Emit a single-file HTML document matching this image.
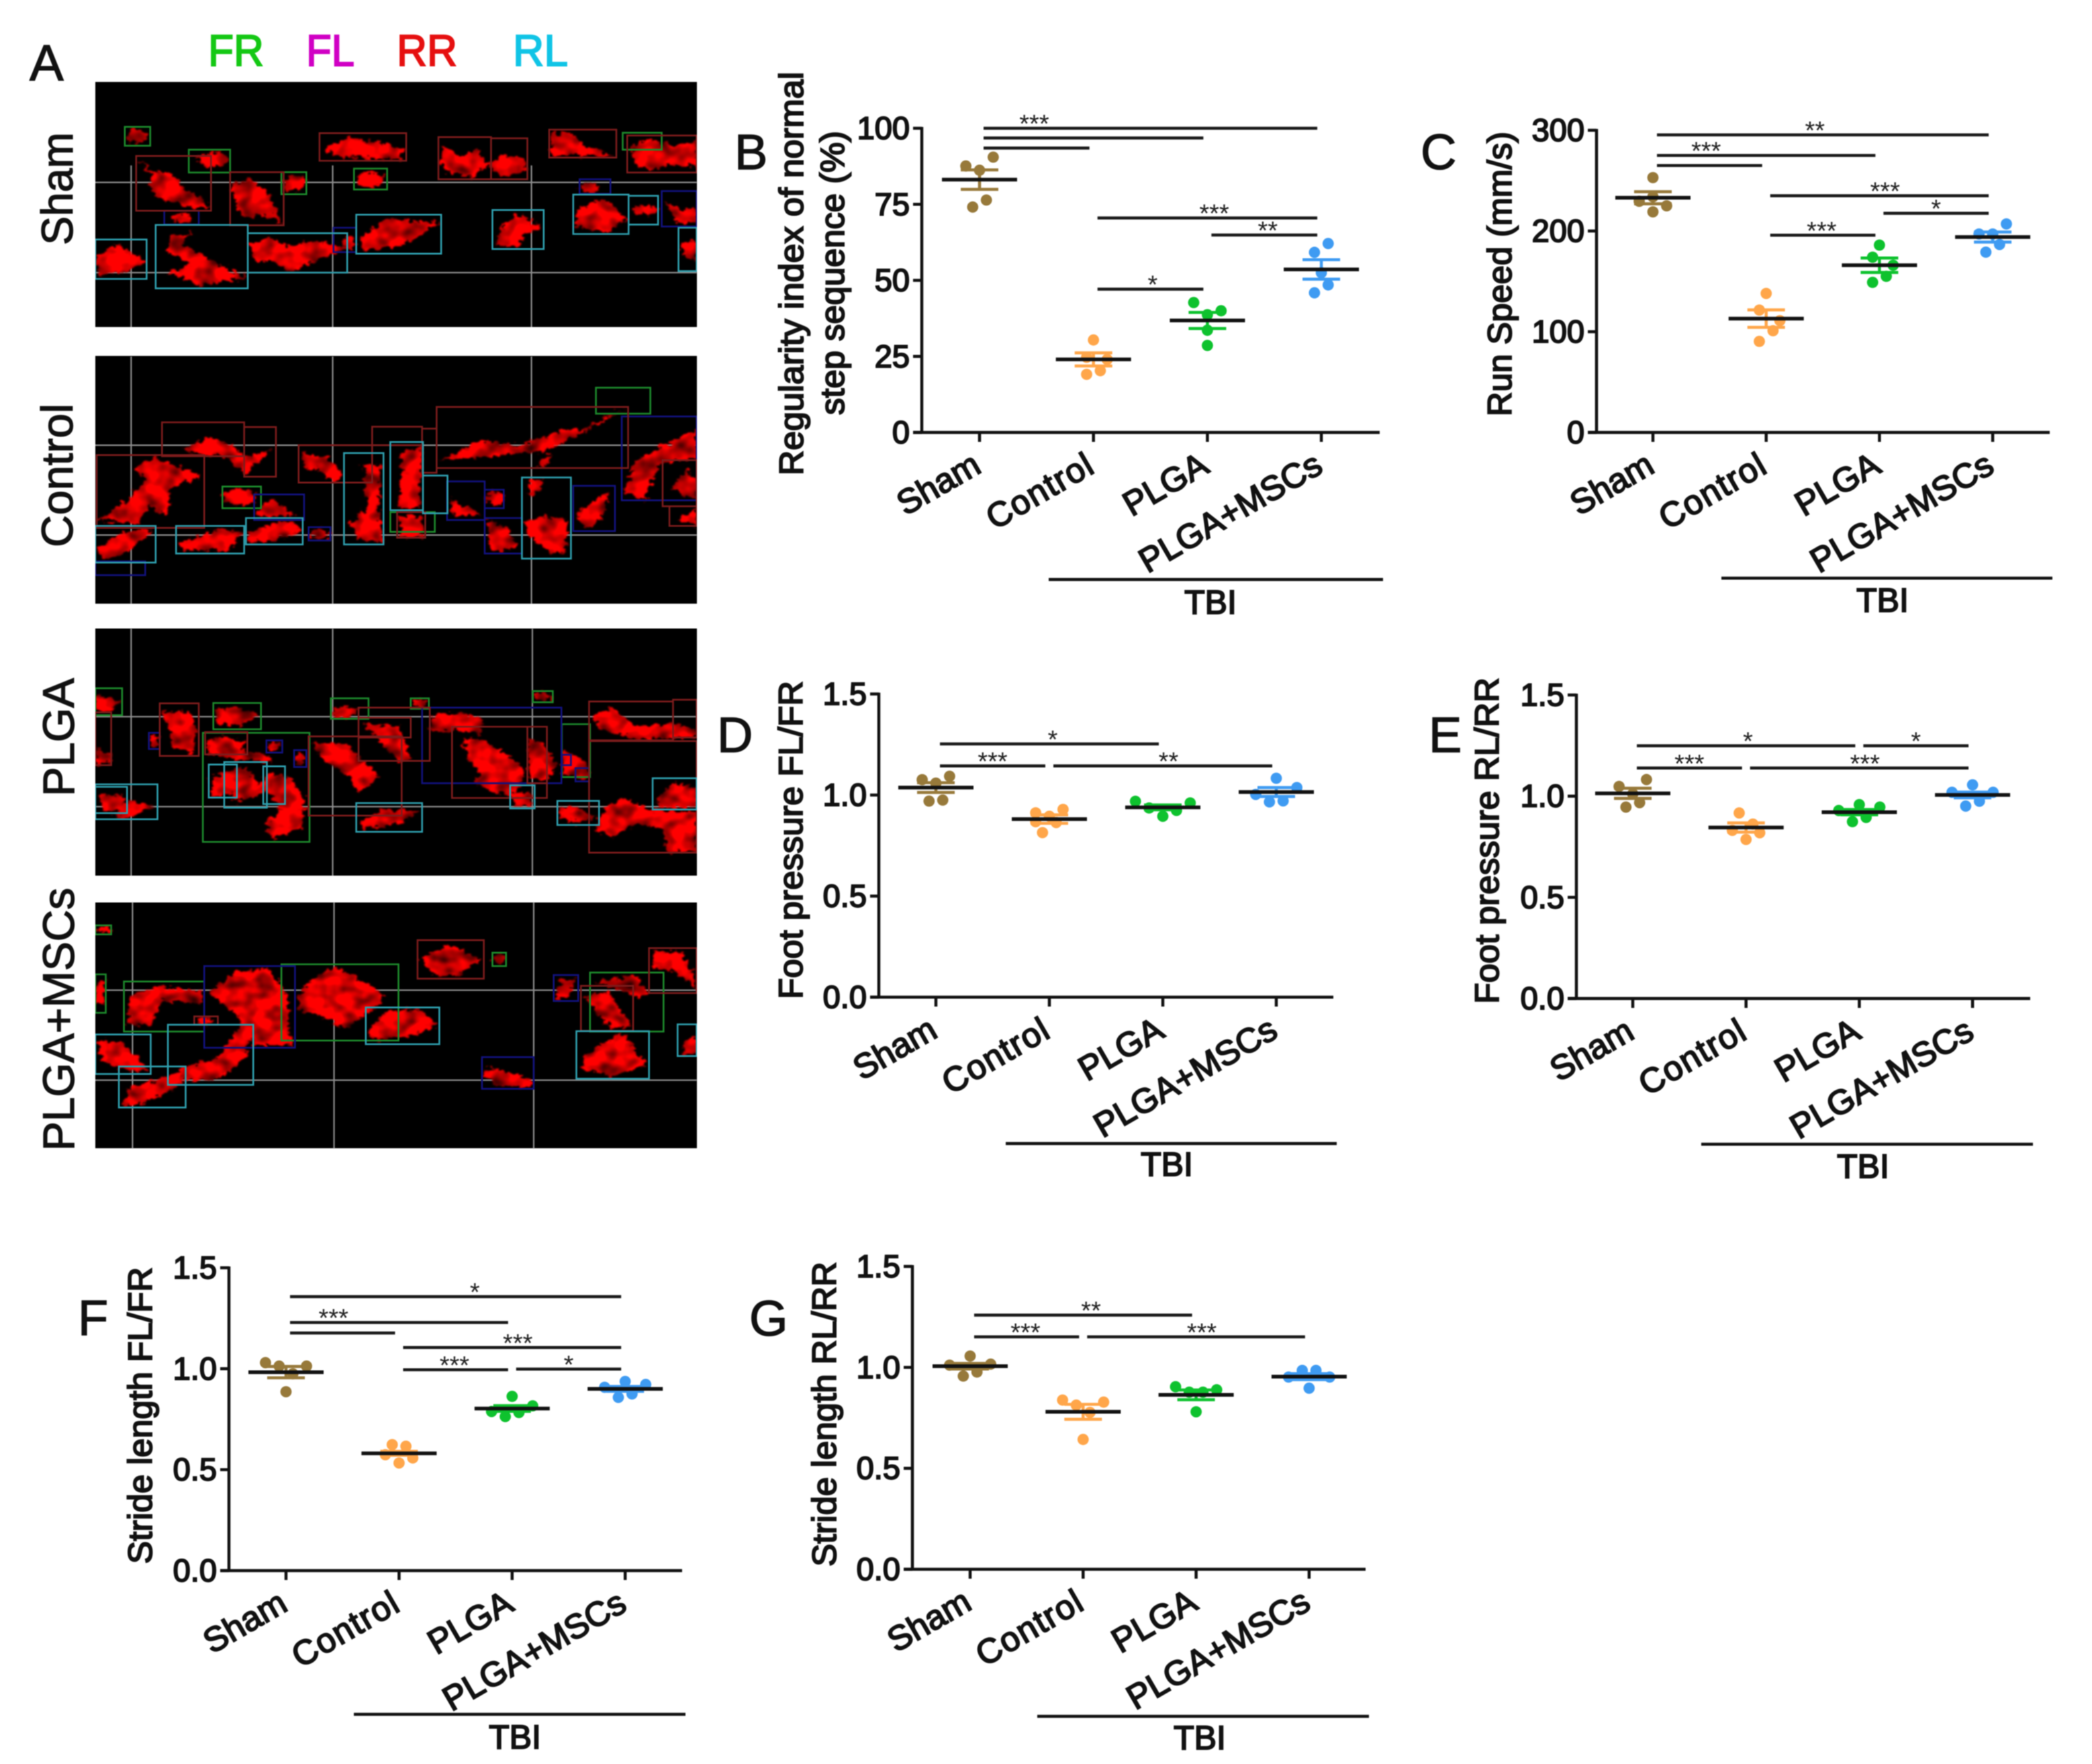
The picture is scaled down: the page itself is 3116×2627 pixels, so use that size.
<!DOCTYPE html>
<html lang="en">
<head>
<meta charset="utf-8">
<title>Gait analysis figure</title>
<style>
html,body{margin:0;padding:0;background:#fff}
svg{display:block;filter:blur(.9px)}
text{font-family:"Liberation Sans",sans-serif;font-kerning:none}
.box{fill:none;stroke-width:2.6;vector-effect:non-scaling-stroke}
.grn{stroke:#1d8a2c}.drd{stroke:#7d1c1c}.blu{stroke:#12127e}.cyn{stroke:#2f9fae}
.grid{stroke:#8c8c8c;stroke-width:2.2;vector-effect:non-scaling-stroke;fill:none}
.blob{fill:#ff0000}
.lbl{fill:#111;stroke:#111;stroke-width:2}
.plain{fill:#111;stroke:#111;stroke-width:1.3}
.leg{stroke-width:2}
</style>
</head>
<body>
<svg id="figure" xmlns="http://www.w3.org/2000/svg" width="3116" height="2627" viewBox="0 0 3116 2627">
<defs>
<filter id="rough" x="-5%" y="-5%" width="110%" height="110%" color-interpolation-filters="sRGB">
<feTurbulence type="fractalNoise" baseFrequency="0.08" numOctaves="3" seed="4" result="n"/>
<feDisplacementMap in="SourceGraphic" in2="n" scale="26" xChannelSelector="R" yChannelSelector="G" result="shape"/>
<feGaussianBlur in="shape" stdDeviation="1.8" result="soft"/>
<feTurbulence type="fractalNoise" baseFrequency="0.025" numOctaves="2" seed="9" result="t"/>
<feColorMatrix in="t" type="matrix" values="1.7 0 0 0 0  1.7 0 0 0 0  1.7 0 0 0 0  0 0 0 0 1" result="tone"/>
<feComposite in="soft" in2="tone" operator="arithmetic" k1="1" k2="0" k3="0" k4="0"/>
</filter>
<clipPath id="clip-a"><rect x="142" y="122" width="896" height="1590"/></clipPath>
</defs>
<rect width="3116" height="2627" fill="#fff"/>

<g>
<text x="44" y="120" font-size="76" class="plain">A</text>
<text x="310" y="98" font-size="66" fill="#14c814" stroke="#14c814" class="leg" textLength="83" lengthAdjust="spacingAndGlyphs">FR</text>
<text x="456" y="98" font-size="66" fill="#d000c4" stroke="#d000c4" class="leg" textLength="72" lengthAdjust="spacingAndGlyphs">FL</text>
<text x="591" y="98" font-size="66" fill="#e61010" stroke="#e61010" class="leg" textLength="90" lengthAdjust="spacingAndGlyphs">RR</text>
<text x="764" y="98" font-size="66" fill="#10c4e6" stroke="#10c4e6" class="leg" textLength="82" lengthAdjust="spacingAndGlyphs">RL</text>
<text transform="translate(108 365) rotate(-90)" font-size="66" class="plain" textLength="168" lengthAdjust="spacingAndGlyphs">Sham</text>
<text transform="translate(108 815) rotate(-90)" font-size="66" class="plain" textLength="214" lengthAdjust="spacingAndGlyphs">Control</text>
<text transform="translate(110 1186) rotate(-90)" font-size="66" class="plain" textLength="176" lengthAdjust="spacingAndGlyphs">PLGA</text>
<text transform="translate(110 1714) rotate(-90)" font-size="66" class="plain" textLength="392" lengthAdjust="spacingAndGlyphs">PLGA+MSCs</text>

<rect x="142" y="122" width="896" height="365" fill="#000"/>
<rect x="142" y="530" width="896" height="369" fill="#000"/>
<rect x="142" y="936" width="896" height="368" fill="#000"/>
<rect x="142" y="1344" width="896" height="366" fill="#000"/>

<g clip-path="url(#clip-a)">
<g transform="scale(.676 .5867)">
<path class="grid" d="M289 420V830M733 420V830M1171 420V830M210 463H1535M210 692H1535M289 905V1532M733 905V1532M1171 905V1532M210 1130H1535M210 1358H1535"/>
<g class="blob" filter="url(#rough)">
<ellipse cx="300" cy="346" rx="22" ry="18"/><ellipse cx="470" cy="405" rx="35" ry="18"/><ellipse cx="648" cy="465" rx="25" ry="20"/><ellipse cx="815" cy="455" rx="30" ry="20"/><ellipse cx="1120" cy="420" rx="40" ry="25"/><ellipse cx="1420" cy="533" rx="28" ry="12"/><ellipse cx="400" cy="555" rx="20" ry="12"/><ellipse cx="1298" cy="478" rx="20" ry="12"/><ellipse cx="770" cy="615" rx="12" ry="20"/>
<polygon points="305,405 340,435 375,440 410,480 465,525 430,530 375,510 345,505 330,470 335,445"/>
<polygon points="510,470 550,450 590,490 622,565 570,545 540,555 520,520"/>
<polygon points="715,375 770,350 850,365 892,380 880,405 780,400 730,395"/>
<polygon points="975,370 1020,395 1050,380 1078,420 1040,450 990,440 970,415"/>
<polygon points="1215,340 1250,335 1290,370 1355,395 1260,395 1215,395"/>
<polygon points="1390,370 1440,350 1480,370 1535,360 1535,425 1470,415 1440,435 1400,420"/>
<polygon points="210,650 260,620 285,640 320,660 280,690 215,700"/>
<polygon points="375,600 420,590 400,620 425,635 480,670 545,705 440,725 370,690 420,670 370,640"/>
<polygon points="550,620 600,605 640,625 700,610 765,630 680,670 640,690 605,665 560,660"/>
<polygon points="790,610 850,555 970,565 880,625 800,635"/>
<polygon points="1090,620 1110,570 1140,545 1195,575 1150,600 1145,630"/>
<polygon points="1268,530 1330,505 1382,555 1340,590 1270,575"/>
<polygon points="1500,620 1535,610 1535,665 1505,650"/>
<polygon points="1465,510 1500,530 1535,530 1535,570 1490,565"/>
<polygon points="215,1320 280,1270 320,1220 300,1185 340,1160 445,1210 380,1235 350,1300 330,1280 300,1330"/>
<polygon points="400,1140 460,1110 510,1130 540,1160 600,1140 570,1170 540,1205 500,1160 430,1150"/>
<polygon points="665,1150 720,1160 755,1200 740,1230 700,1190 670,1190"/>
<polygon points="800,1180 840,1180 835,1290 845,1375 790,1370 770,1330 810,1290"/>
<polygon points="885,1150 930,1130 925,1290 880,1290"/>
<polygon points="970,1170 1050,1120 1150,1130 1240,1090 1280,1090 1380,1035 1290,1095 1200,1145 1050,1160"/>
<polygon points="1185,1180 1215,1150 1215,1170 1195,1190"/>
<polygon points="1170,1215 1200,1220 1180,1255 1165,1255"/>
<polygon points="1160,1320 1200,1310 1250,1320 1245,1400 1210,1405 1160,1350"/>
<polygon points="1270,1300 1340,1250 1325,1320 1290,1345"/>
<polygon points="1375,1250 1400,1170 1480,1120 1535,1090 1535,1160 1450,1180 1420,1270"/>
<polygon points="1480,1240 1510,1190 1535,1220 1535,1270"/>
<polygon points="1490,1320 1535,1290 1535,1335"/>
<polygon points="215,1390 270,1350 340,1345 280,1400 230,1425"/>
<polygon points="392,1380 480,1345 535,1350 500,1400 400,1395"/>
<polygon points="545,1350 630,1320 665,1345 600,1375 545,1375"/>
<polygon points="565,1295 600,1265 650,1310 570,1310"/>
<polygon points="990,1265 1060,1305 1000,1310"/>
<polygon points="1075,1320 1120,1340 1140,1390 1080,1400"/>
<polygon points="880,1310 930,1310 930,1365 885,1365"/>
<polygon points="345,1270 375,1230 370,1300 340,1305"/>
<ellipse cx="1090" cy="1265" rx="18" ry="20"/><ellipse cx="705" cy="1356" rx="20" ry="14"/><ellipse cx="530" cy="1262" rx="38" ry="22"/>
</g>
<path class="box grn" d="M275 322H331V370H275ZM416 380H507V438H416ZM620 437H675V493H620ZM780 428H853V481H780ZM1372 337H1458V380H1372ZM1313 984H1433V1050H1313ZM490 1235H575V1290H490ZM860 1300H958V1350H860Z"/>
<path class="box blu" d="M362 535H438V570H362ZM1277 455H1345V492H1277ZM1458 485H1535V575H1458ZM735 578H785V640H735ZM560 1255H670V1320H560ZM680 1338H728V1372H680ZM985 1222H1068V1320H985ZM1068 1243H1110V1290H1068ZM1068 1315H1150V1405H1068ZM1263 1233H1355V1348H1263ZM1370 1057H1535V1270H1370ZM210 1425H320V1460H210Z"/>
<path class="box drd" d="M300 396H465V535H300ZM507 437H625V572H507ZM704 338H895V408H704ZM966 348H1082V455H966ZM1082 351H1162V455H1082ZM1210 329H1358V400H1210ZM1382 344H1535V438H1382ZM357 1072H538V1158H357ZM538 1084H608V1210H538ZM213 1155H450V1340H213ZM658 1130H820V1225H658ZM820 1083H930V1130H820ZM930 1088H962V1200H930ZM962 1033H1384V1188H962ZM1460 1168H1535V1285H1460ZM1475 1285H1535V1335H1475ZM875 1300H937V1365H875Z"/>
<path class="box cyn" d="M210 608H323V708H210ZM343 571H546V732H343ZM546 592H765V692H546ZM785 545H972V644H785ZM1085 533H1198V632H1085ZM1263 494H1385V594H1263ZM1385 497H1450V570H1385ZM1495 578H1535V688H1495ZM210 1335H343V1428H210ZM388 1335H538V1405H388ZM542 1315H667V1382H542ZM758 1150H845V1382H758ZM860 1122H932V1295H860ZM932 1207H986V1303H932ZM1150 1212H1258V1418H1150Z"/>
</g>
<g transform="translate(0 900) scale(.676 .536)">
<path class="grid" d="M289 68V754M733 68V754M1173 68V754M210 312H1535M210 562H1535M292 828V1512M736 828V1512M1176 828V1512M210 1072H1535M210 1322H1535"/>
<g class="blob" filter="url(#rough)">
<polygon points="210,250 268,270 240,295 210,295"/>
<polygon points="210,395 245,420 235,445 210,445"/>
<polygon points="355,300 420,300 435,350 425,415 385,400 375,360"/>
<polygon points="475,290 520,285 572,305 530,335 480,335"/>
<polygon points="455,380 490,365 540,385 535,405 590,420 600,440 520,430 460,415"/>
<polygon points="495,470 540,450 570,500 590,470 640,480 670,540 670,620 600,650 585,610 620,570 590,520 520,550"/>
<polygon points="685,385 760,385 835,480 790,525 770,480 710,430"/>
<polygon points="732,285 790,290 770,315 735,315"/>
<polygon points="800,330 880,340 890,380 905,430 880,440"/>
<polygon points="950,310 1010,300 1065,320 1060,360 1000,350 950,355"/>
<polygon points="1020,370 1070,380 1130,430 1160,470 1130,530 1080,520 1040,490 1060,470 1030,430"/>
<polygon points="1165,370 1200,390 1228,450 1200,490 1165,480"/>
<polygon points="1240,400 1295,440 1295,470 1240,475"/>
<polygon points="1305,310 1350,285 1400,340 1483,330 1535,350 1535,370 1400,375 1320,345"/>
<polygon points="1310,620 1340,555 1375,540 1430,570 1535,580 1535,685 1470,690 1460,620 1400,610 1345,650"/>
<polygon points="1445,540 1490,495 1535,510 1535,565 1460,565"/>
<polygon points="790,610 840,570 925,575 880,610 800,625"/>
<polygon points="1130,525 1170,520 1170,560 1135,560"/>
<polygon points="1232,565 1270,565 1315,590 1270,610 1235,590"/>
<polygon points="215,530 270,530 275,570 230,575"/>
<polygon points="285,545 340,560 280,595 250,590"/>
<polygon points="465,480 500,470 515,525 470,535"/>
<ellipse cx="925" cy="275" rx="15" ry="12"/><ellipse cx="1195" cy="256" rx="18" ry="12"/><ellipse cx="603" cy="395" rx="12" ry="12"/><ellipse cx="660" cy="430" rx="10" ry="18"/><ellipse cx="340" cy="380" rx="10" ry="18"/><ellipse cx="1285" cy="475" rx="12" ry="15"/>
<ellipse cx="228" cy="903" rx="15" ry="9"/><ellipse cx="1100" cy="986" rx="12" ry="15"/><ellipse cx="452" cy="1157" rx="20" ry="10"/>
<polygon points="210,1060 230,1040 230,1110 210,1110"/>
<polygon points="280,1170 285,1090 350,1060 450,1075 440,1110 360,1100 330,1170"/>
<polygon points="460,1080 520,1020 590,1010 630,1080 640,1225 560,1225 520,1140"/>
<polygon points="655,1090 690,1040 735,1005 790,1040 850,1090 830,1120 760,1180 700,1140 660,1130"/>
<polygon points="810,1190 850,1130 925,1125 968,1170 900,1200 830,1215"/>
<polygon points="925,985 990,945 1060,985 1010,1030 960,1035"/>
<polygon points="1225,1100 1235,1040 1270,1040 1255,1090"/>
<polygon points="1310,1050 1400,1030 1430,1085 1400,1090 1340,1060"/>
<polygon points="1290,1090 1340,1075 1390,1170 1350,1180 1310,1130"/>
<polygon points="1280,1290 1290,1250 1370,1190 1400,1240 1425,1280 1350,1310"/>
<polygon points="1440,965 1500,965 1535,1040 1535,1070 1490,1020 1440,1010"/>
<polygon points="1505,1210 1535,1200 1535,1250 1505,1250"/>
<polygon points="215,1210 270,1220 325,1290 290,1300 225,1270"/>
<polygon points="395,1290 480,1260 530,1170 555,1190 540,1260 480,1320 410,1325"/>
<polygon points="270,1390 290,1340 400,1300 405,1330 310,1390"/>
<polygon points="1065,1290 1090,1290 1170,1320 1170,1345 1090,1335 1065,1310"/>
</g>
<path class="box grn" d="M210 233H269V308H210ZM470 274H575V347H470ZM447 357H682V660H447ZM729 261H812V318H729ZM905 261H945V290H905ZM1174 241H1218V272H1174ZM1238 333H1300V480H1238ZM210 892H245V917H210ZM210 1028H233V1135H210ZM273 1048H450V1187H273ZM620 1000H878V1212H620ZM1300 1023H1462V1187H1300ZM1085 968H1115V1005H1085Z"/>
<path class="box blu" d="M328 357H352V402H328ZM587 378H622V412H587ZM648 405H675V452H648ZM930 287H1237V497H930ZM1238 418H1258V447H1238ZM1268 455H1298V492H1268ZM450 1005H650V1232H450ZM1220 1030H1274V1102H1220ZM1062 1258H1176V1346H1062Z"/>
<path class="box drd" d="M210 300H245V447H210ZM352 275H438V421H352ZM452 355H545V417H452ZM680 367H885V587H680ZM790 287H947V435H790ZM790 315H905V370H790ZM996 340H1205V538H996ZM1162 340H1205V497H1162ZM1298 270H1483V378H1298ZM1483 265H1535V370H1483ZM1298 380H1535V690H1298ZM920 933H1066V1040H920ZM1430 955H1535V1080H1430ZM1280 1060H1395V1185H1280ZM428 1145H480V1168H428Z"/>
<path class="box cyn" d="M210 500H347V597H210ZM210 507H280V580H210ZM460 445H522V537H460ZM494 438H588V565H494ZM580 450H628V555H580ZM785 552H930V632H785ZM1124 503H1178V567H1124ZM1228 546H1320V613H1228ZM1438 483H1535V570H1438ZM210 1195H332V1305H210ZM370 1168H558V1335H370ZM262 1284H409V1398H262ZM806 1120H968V1222H806ZM1270 1186H1430V1318H1270ZM1493 1167H1535V1255H1493Z"/>
</g>
</g>
</g>
<g id="charts"></g>
</svg>

<script>
const categories = ['Sham', 'Control', 'PLGA', 'PLGA+MSCs'];

const bTickLabels = ['0', '25', '50', '75', '100'];
const bShamValues = [87.6, 90.5, 86.2, 76.4, 74.1];
const bControlValues = [30.4, 24.7, 24, 20.3, 19.1];
const bPlgaValues = [42.7, 40, 38.7, 33.6, 28.6];
const bMscsValues = [62.1, 59.2, 52.5, 48.5, 45.9];
const bShamSlots = [-3, 3, 0, 1.5, -1.5];
const bControlSlots = [0, -1.5, 3, 1.5, -1.5];
const bPlgaSlots = [-3, 3, 0, 0, 0];
const bMscsSlots = [1.5, -1.5, 0, 1.5, -1.5];
const bMeans = [83.1, 24, 36.8, 53.6];
const bSems = [3.2, 2.15, 2.65, 3.2];
const bBrackets = [[0, 3, 100, '***', 0.48], [0, 2, 96.8, '', 0], [0, 1, 93.5, '', 0], [1, 3, 70.5, '***', 2.06], [2, 3, 64.9, '**', 2.53], [1, 2, 47.1, '*', 1.52]];

const cTickLabels = ['0', '100', '200', '300'];
const cShamValues = [253, 229.5, 234, 225, 219];
const cControlValues = [138, 121.5, 111, 101, 90.4];
const cPlgaValues = [186, 174, 166, 155, 149];
const cMscsValues = [207, 197, 197, 186.6, 179];
const cShamSlots = [0, -3, 0, 3, 0];
const cControlSlots = [0, -1.5, 3, 1.5, -1.5];
const cPlgaSlots = [0, -1.5, 3, 1.5, -1.5];
const cMscsSlots = [3, -3, 0, 1.5, -1.5];
const cMeans = [233, 113, 166, 194];
const cSems = [6, 8.7, 7.2, 5];
const cBrackets = [[0, 3, 295.4, '**', 1.43], [0, 2, 275, '***', 0.47], [0, 1, 265, '', 0], [1, 3, 235, '***', 2.05], [2, 3, 217.6, '*', 2.5], [1, 2, 195.8, '***', 1.49]];

const dTickLabels = ['0.0', '0.5', '1.0', '1.5'];
const dShamValues = [1.076, 1.093, 1.059, 0.975, 0.97];
const dControlValues = [0.929, 0.912, 0.895, 0.864, 0.868, 0.814];
const dPlgaValues = [0.969, 0.961, 0.936, 0.924, 0.895];
const dMscsValues = [1.083, 1.037, 1.003, 0.971, 0.966];
const dShamSlots = [-3, 3, 0, 1.5, -1.5];
const dControlSlots = [3, -3, 0, 1.5, -3, -1.5];
const dPlgaSlots = [-6, 6, -3, 3, 0];
const dMscsSlots = [0, 4.5, -4.5, 1.5, -1.5];
const dMeans = [1.037, 0.881, 0.939, 1.015];
const dSems = [0.024, 0.021, 0.012, 0.022];
const dBrackets = [[0, 2, 1.253, '*', 1.03], [0, 1, 1.144, '***', 0.5], [1, 3, 1.144, '**', 2.05]];

const eTickLabels = ['0.0', '0.5', '1.0', '1.5'];
const eShamValues = [1.082, 1.048, 1.011, 0.968, 0.946];
const eControlValues = [0.917, 0.862, 0.831, 0.819, 0.786];
const ePlgaValues = [0.958, 0.946, 0.929, 0.895, 0.874];
const eMscsValues = [1.056, 1.019, 1.019, 0.975, 0.951];
const eShamSlots = [3, -3, 0, 1.5, -1.5];
const eControlSlots = [-1.5, 1.5, -3, 3, 0];
const ePlgaSlots = [0, 4.5, -4.5, 1.5, -1.5];
const eMscsSlots = [0, 4.5, -4.5, 1.5, -1.5];
const eMeans = [1.014, 0.845, 0.921, 1.006];
const eSems = [0.025, 0.023, 0.013, 0.014];
const eBrackets = [[0, 2, 1.249, '*', 1.017], [2, 3, 1.249, '*', 2.5], [0, 1, 1.139, '***', 0.5], [1, 3, 1.139, '***', 2.05]];

const fTickLabels = ['0.0', '0.5', '1.0', '1.5'];
const fShamValues = [1.03, 1.013, 1.013, 0.975, 0.886];
const fControlValues = [0.624, 0.616, 0.574, 0.558, 0.533];
const fPlgaValues = [0.863, 0.816, 0.788, 0.783, 0.763];
const fMscsValues = [0.937, 0.922, 0.908, 0.875, 0.858];
const fShamSlots = [-4.5, 4.5, -1.5, 1.5, 0];
const fControlSlots = [-1.5, 1.5, -3, 3, 0];
const fPlgaSlots = [0, 4.5, -4.5, 1.5, -1.5];
const fMscsSlots = [0, 4.5, -4.5, 1.5, -1.5];
const fMeans = [0.983, 0.581, 0.803, 0.9];
const fSems = [0.028, 0.01, 0.014, 0.012];
const fBrackets = [[0, 3, 1.357, '*', 1.67], [0, 2, 1.229, '***', 0.42], [0, 1, 1.177, '', 0], [1, 3, 1.105, '***', 2.05], [1, 2, 0.995, '***', 1.49], [2, 3, 0.998, '*', 2.5]];

const gTickLabels = ['0.0', '0.5', '1.0', '1.5'];
const gShamValues = [1.056, 1.016, 1.011, 0.977, 0.957];
const gControlValues = [0.838, 0.828, 0.813, 0.777, 0.643];
const gPlgaValues = [0.904, 0.889, 0.877, 0.877, 0.78];
const gMscsValues = [0.985, 0.985, 0.952, 0.952, 0.897];
const gShamSlots = [0, 4.5, -4.5, 1.5, -1.5];
const gControlSlots = [-4.5, 4.5, -1.5, 1.5, 0];
const gPlgaSlots = [-4.5, 4.5, -1.5, 1.5, 0];
const gMscsSlots = [-1.5, 1.5, -4.5, 4.5, 0];
const gMeans = [1.006, 0.78, 0.864, 0.954];
const gSems = [0.014, 0.037, 0.024, 0.015];
const gBrackets = [[0, 2, 1.259, '**', 1.07], [0, 1, 1.151, '***', 0.49], [1, 3, 1.151, '***', 2.05]];

const NS = 'http://www.w3.org/2000/svg';
const groupColors = ['#97793a', '#ffa64a', '#0ec22e', '#3f9bf2'];

function make(parent, tag, attrs, text) {
  const el = document.createElementNS(NS, tag);
  for (const k in attrs) el.setAttribute(k, attrs[k]);
  if (text !== undefined) el.textContent = text;
  parent.appendChild(el);
  return el;
}

function line(parent, x1, y1, x2, y2, color, width) {
  return make(parent, 'line', {x1: x1, y1: y1, x2: x2, y2: y2, stroke: color, 'stroke-width': width});
}

function drawPanel(p, tickLabels, valueSets, slotSets, means, sems, brackets) {
  const root = document.getElementById('charts');
  const g = make(root, 'g', {});
  
  

  const xPos = function (i) { return p.x0 + i * p.dx; };
  const yPos = function (v) { return p.yBottom - v / p.max * (p.yBottom - p.yTop); };

  const letter = make(g, 'text', {x: p.letterX, y: p.letterY, 'font-size': 74, class: 'plain'}, p.id.toUpperCase());
  
  

  p.titles.forEach(function (t) {
    const title = make(g, 'text', {
      transform: 'translate(' + t.x + ' ' + (t.y1 + t.y2) / 2 + ') rotate(-90)',
      'text-anchor': 'middle', 'font-size': 50, class: 'lbl',
      textLength: t.y2 - t.y1, lengthAdjust: 'spacingAndGlyphs'
    }, t.text);
    
    
  });

  const yAxis = line(g, p.axisX, p.yTop - 2, p.axisX, p.yBottom + 2, '#111', 4.5);
  
  
  const xAxis = line(g, p.axisX - 13, p.yBottom, p.xEnd, p.yBottom, '#111', 4.5);
  
  

  tickLabels.forEach(function (label) {
    const y = yPos(parseFloat(label));
    const tick = line(g, p.axisX - 13, y, p.axisX, y, '#111', 4.5);
    
    
    const txt = make(g, 'text', {x: p.axisX - 18, y: y + 16, 'text-anchor': 'end', 'font-size': 47, class: 'lbl'}, label);
    
    
  });

  categories.forEach(function (name, i) {
    const x = xPos(i);
    const tick = line(g, x, p.yBottom, x, p.yBottom + 14, '#111', 4.5);
    
    
    const txt = make(g, 'text', {
      transform: 'translate(' + (x + 5) + ' ' + (p.yBottom + 58) + ') rotate(-30)',
      'text-anchor': 'end', 'font-size': 51, class: 'lbl',
      'letter-spacing': name === 'Control' ? 1.6 : 0
    }, name);
    
    
  });

  valueSets.forEach(function (values, i) {
    const series = make(g, 'g', {fill: groupColors[i]});
    
    
    values.forEach(function (v, j) {
      const dot = make(series, 'circle', {cx: xPos(i) + slotSets[i][j] * 6.8, cy: yPos(v), r: 8.4});
      
      
    });
    const x = xPos(i);
    const top = yPos(means[i] + sems[i]);
    const bottom = yPos(means[i] - sems[i]);
    const stem = line(series, x, top, x, bottom, groupColors[i], 4.5);
    
    
    const capTop = line(series, x - 28, top, x + 28, top, groupColors[i], 4.5);
    
    
    const capBottom = line(series, x - 28, bottom, x + 28, bottom, groupColors[i], 4.5);
    
    
    const meanLine = line(series, x - 56, yPos(means[i]), x + 56, yPos(means[i]), '#111', 5.5);
    
    
  });

  brackets.forEach(function (b) {
    const y = yPos(b[2]);
    const bar = line(g, xPos(b[0]) + 6, y, xPos(b[1]) - 6, y, '#1a1a1a', 4.5);
    
    
    if (b[3]) {
      const star = make(g, 'text', {x: xPos(b[4]), y: y + 6, 'text-anchor': 'middle', 'font-size': 38, fill: '#222'}, b[3]);
      
      
    }
  });

  const tbiLine = line(g, p.tbi[0], p.tbi[2], p.tbi[1], p.tbi[2], '#111', 4.5);
  
  
  const tbiText = make(g, 'text', {x: p.tbi[3], y: p.tbi[4], 'text-anchor': 'middle', 'font-size': 50, class: 'lbl'}, 'TBI');
  
  
}

drawPanel({id: 'b', axisX: 1373, yTop: 191, yBottom: 644, max: 100, x0: 1459, dx: 169.7, xEnd: 2055, letterX: 1094, letterY: 252,
  titles: [{text: 'Regularity index of normal', x: 1196, y1: 107, y2: 708}, {text: 'step sequence (%)', x: 1257, y1: 195, y2: 618}],
  tbi: [1562, 2060, 863, 1803, 914]},
  bTickLabels, [bShamValues, bControlValues, bPlgaValues, bMscsValues], [bShamSlots, bControlSlots, bPlgaSlots, bMscsSlots], bMeans, bSems, bBrackets);

drawPanel({id: 'c', axisX: 2378, yTop: 194, yBottom: 644, max: 300, x0: 2462, dx: 168.7, xEnd: 3053, letterX: 2116, letterY: 252,
  titles: [{text: 'Run Speed (mm/s)', x: 2251, y1: 196, y2: 620}],
  tbi: [2564, 3057, 861, 2804, 911]},
  cTickLabels, [cShamValues, cControlValues, cPlgaValues, cMscsValues], [cShamSlots, cControlSlots, cPlgaSlots, cMscsSlots], cMeans, cSems, cBrackets);

drawPanel({id: 'd', axisX: 1309, yTop: 1033.5, yBottom: 1485, max: 1.5, x0: 1394, dx: 169, xEnd: 1986, letterX: 1068, letterY: 1120,
  titles: [{text: 'Foot pressure FL/FR', x: 1195, y1: 1014, y2: 1488}],
  tbi: [1498, 1991, 1703, 1738, 1751]},
  dTickLabels, [dShamValues, dControlValues, dPlgaValues, dMscsValues], [dShamSlots, dControlSlots, dPlgaSlots, dMscsSlots], dMeans, dSems, dBrackets);

drawPanel({id: 'e', axisX: 2348, yTop: 1035, yBottom: 1487, max: 1.5, x0: 2432, dx: 168.7, xEnd: 3024, letterX: 2128, letterY: 1120,
  titles: [{text: 'Foot pressure RL/RR', x: 2232, y1: 1009, y2: 1495}],
  tbi: [2534, 3028, 1704, 2775, 1754]},
  eTickLabels, [eShamValues, eControlValues, ePlgaValues, eMscsValues], [eShamSlots, eControlSlots, ePlgaSlots, eMscsSlots], eMeans, eSems, eBrackets);

drawPanel({id: 'f', axisX: 341, yTop: 1888, yBottom: 2339, max: 1.5, x0: 426, dx: 168.4, xEnd: 1016, letterX: 116, letterY: 1988,
  titles: [{text: 'Stride length FL/FR', x: 226, y1: 1887, y2: 2329}],
  tbi: [527, 1021, 2553, 767, 2604]},
  fTickLabels, [fShamValues, fControlValues, fPlgaValues, fMscsValues], [fShamSlots, fControlSlots, fPlgaSlots, fMscsSlots], fMeans, fSems, fBrackets);

drawPanel({id: 'g', axisX: 1359, yTop: 1886, yBottom: 2337, max: 1.5, x0: 1445, dx: 168.3, xEnd: 2034, letterX: 1116, letterY: 1989,
  titles: [{text: 'Stride length RL/RR', x: 1245, y1: 1879, y2: 2333}],
  tbi: [1545, 2039, 2556, 1787, 2605]},
  gTickLabels, [gShamValues, gControlValues, gPlgaValues, gMscsValues], [gShamSlots, gControlSlots, gPlgaSlots, gMscsSlots], gMeans, gSems, gBrackets);
</script>
</body>
</html>
